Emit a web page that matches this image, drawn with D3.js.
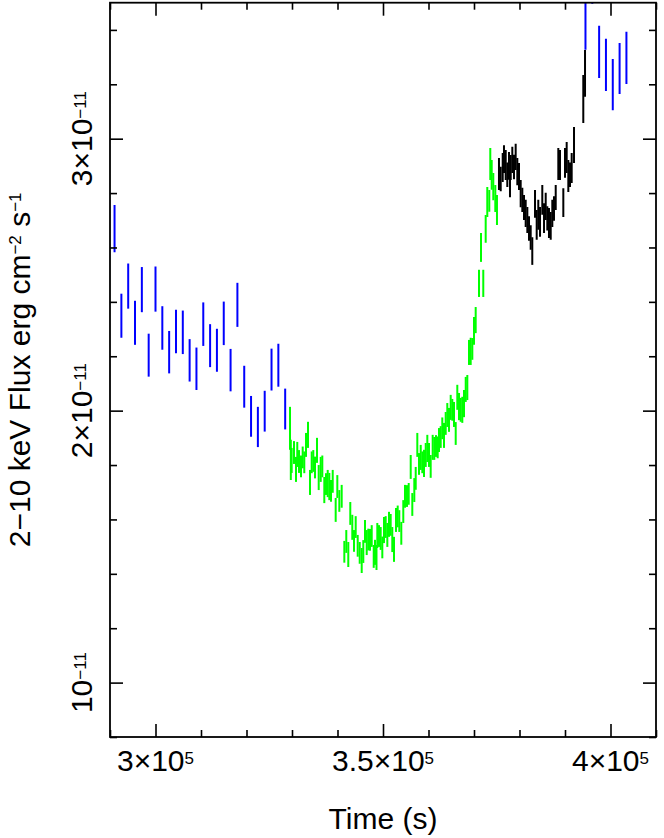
<!DOCTYPE html>
<html>
<head>
<meta charset="utf-8">
<script src="https://cdn.jsdelivr.net/npm/d3@7/dist/d3.min.js"></script>
<style>
  html, body { margin: 0; padding: 0; background: #fff; }
  svg { display: block; }
  text { font-family: "Liberation Sans", Arial, Helvetica, sans-serif; fill: #000; }
</style>
</head>
<body>
<div id="chart"></div>
<script>
// ---------------- data (time in s, flux in units of 1e-11 erg cm^-2 s^-1) ----------------
const blueA_time = [291000, 292500, 294000, 295500, 297000, 298500, 300000, 301500, 303000, 304500, 306000, 307500, 309000, 310500, 312000, 313500, 315000, 316500, 318000, 319500, 321000, 322500, 324000, 325500, 327000, 328500];
const blueA_flux = [2.669, 2.349, 2.458, 2.323, 2.445, 2.204, 2.447, 2.304, 2.215, 2.291, 2.288, 2.185, 2.154, 2.318, 2.239, 2.222, 2.321, 2.149, 2.389, 2.088, 1.979, 1.940, 1.998, 2.151, 2.167, 2.006];
const blueA_err  = [0.087, 0.081, 0.083, 0.081, 0.083, 0.079, 0.083, 0.080, 0.078, 0.080, 0.080, 0.078, 0.078, 0.080, 0.079, 0.079, 0.080, 0.078, 0.081, 0.077, 0.075, 0.074, 0.075, 0.077, 0.079, 0.075];

const green_time = [329560, 329740, 329930, 330440, 330880, 331160, 331540, 331980, 332350, 332700,
  333080, 333520, 333960, 334330, 334680, 335050, 335490, 335870, 336310, 336660,
  337100, 337470, 337850, 338200, 338570, 338950, 339600, 339960, 340400, 340920,
  341500, 341930, 342370, 342810, 343250, 343630, 344000, 344440, 344880, 345320,
  345670, 346040, 346420, 346770, 347140, 347520, 347960, 348240, 348570, 348750,
  349120, 349490, 349850, 350220, 350590, 350950, 351320, 351690, 352040, 352420,
  352860, 353230, 353580, 354020, 354460, 354840, 355270, 355650, 356090, 356440,
  356880, 357190, 357540, 357910, 358290, 358640, 359010, 359390, 359740, 360110,
  360480, 360920, 361270, 361650, 362020, 362310, 362680, 363030, 363410, 363780,
  364130, 364510, 364880, 365230, 365600, 365980, 366330, 366700, 367080, 367430,
  367800, 368180, 368530, 368900, 369270, 369630, 370000, 370370, 371100, 371540,
  372040, 372570, 372920, 373360, 373580, 373890, 374240, 374680, 375050];
const green_flux = [1.935, 1.819, 1.817, 1.846, 1.784, 1.839, 1.813, 1.795, 1.828, 1.810,
  1.874, 1.911, 1.736, 1.810, 1.815, 1.791, 1.854, 1.754, 1.784, 1.795,
  1.708, 1.730, 1.732, 1.721, 1.705, 1.740, 1.635, 1.721, 1.668, 1.685,
  1.481, 1.519, 1.471, 1.622, 1.571, 1.521, 1.572, 1.503, 1.477, 1.449,
  1.482, 1.556, 1.515, 1.526, 1.525, 1.539, 1.464, 1.479, 1.460, 1.541,
  1.539, 1.530, 1.497, 1.561, 1.572, 1.543, 1.582, 1.580, 1.526, 1.490,
  1.598, 1.611, 1.594, 1.549, 1.629, 1.685, 1.686, 1.694, 1.793, 1.655,
  1.708, 1.751, 1.874, 1.804, 1.828, 1.810, 1.806, 1.837, 1.861, 1.837,
  1.795, 1.865, 1.861, 1.870, 1.865, 1.892, 1.903, 1.935, 1.909, 1.953,
  1.984, 1.966, 2.012, 2.003, 1.986, 1.916, 2.049, 2.015, 2.003, 2.003,
  2.026, 2.078, 2.085, 2.214, 2.218, 2.227, 2.293, 2.333, 2.468, 2.600,
  2.468, 2.668, 2.767, 2.771, 2.907, 2.867, 2.824, 2.780, 2.738];
const green_err = [0.079, 0.074, 0.046, 0.042, 0.046, 0.046, 0.042, 0.040, 0.040, 0.040,
  0.044, 0.048, 0.046, 0.040, 0.040, 0.040, 0.046, 0.046, 0.046, 0.040,
  0.048, 0.040, 0.050, 0.050, 0.040, 0.042, 0.044, 0.042, 0.040, 0.042,
  0.040, 0.042, 0.046, 0.042, 0.046, 0.040, 0.040, 0.040, 0.040, 0.046,
  0.042, 0.042, 0.046, 0.040, 0.040, 0.040, 0.042, 0.046, 0.046, 0.046,
  0.040, 0.042, 0.040, 0.048, 0.040, 0.044, 0.046, 0.040, 0.046, 0.046,
  0.044, 0.040, 0.040, 0.042, 0.042, 0.042, 0.040, 0.040, 0.044, 0.042,
  0.044, 0.042, 0.044, 0.040, 0.046, 0.040, 0.050, 0.044, 0.050, 0.044,
  0.042, 0.046, 0.042, 0.040, 0.040, 0.044, 0.040, 0.040, 0.046, 0.042,
  0.044, 0.044, 0.046, 0.040, 0.046, 0.042, 0.046, 0.050, 0.044, 0.048,
  0.050, 0.046, 0.046, 0.046, 0.050, 0.040, 0.051, 0.048, 0.050, 0.053,
  0.050, 0.051, 0.055, 0.040, 0.059, 0.055, 0.050, 0.050, 0.055];

const black_time = [375490, 375870, 376310, 376590, 376970, 377320, 377690, 377910, 378070, 378420,
  378790, 379160, 379520, 379890, 380260, 380620, 380990, 381360, 381720, 382090,
  382460, 382810, 383410, 383780, 384130, 384510, 385010, 385390, 385760, 386110,
  386480, 386860, 387210, 387580, 387960, 388530, 388900, 389630, 390000, 390370,
  390730, 391100, 391470, 391980, 394020, 394400];
const black_flux = [2.870, 2.852, 2.894, 2.925, 2.903, 2.867, 2.900, 2.835, 2.894, 2.922,
  2.896, 2.933, 2.879, 2.861, 2.798, 2.775, 2.747, 2.725, 2.701, 2.670,
  2.637, 2.587, 2.760, 2.683, 2.720, 2.694, 2.775, 2.708, 2.751, 2.707,
  2.690, 2.679, 2.725, 2.743, 2.784, 2.907, 2.903, 2.765, 2.911, 2.931,
  2.863, 2.867, 2.892, 2.977, 3.146, 3.240];
const black_err = [0.059, 0.045, 0.053, 0.051, 0.055, 0.045, 0.051, 0.050, 0.046, 0.048,
  0.045, 0.048, 0.050, 0.050, 0.050, 0.045, 0.046, 0.050, 0.048, 0.045,
  0.045, 0.051, 0.051, 0.055, 0.055, 0.055, 0.055, 0.055, 0.050, 0.045,
  0.055, 0.051, 0.050, 0.045, 0.046, 0.059, 0.055, 0.053, 0.055, 0.057,
  0.059, 0.045, 0.055, 0.066, 0.088, 0.086];

const blueB_time = [394500, 396000, 397500, 399000, 400500, 402000, 403500];
const blueB_flux = [3.424, 3.593, 3.319, 3.271, 3.199, 3.258, 3.297];
const blueB_err  = [0.097, 0.097, 0.096, 0.096, 0.094, 0.094, 0.096];

// axis ticks and labels
const xDomain = [290000, 410000];
const yDomain = [0.8, 3.5];
const xMajorTicks = [300000, 350000, 400000];
const xMajorLabels = [["3×10", "5"], ["3.5×10", "5"], ["4×10", "5"]];
const xMinorTicks = [290000, 310000, 320000, 330000, 340000, 360000, 370000, 380000, 390000, 410000];
const yMajorTicks = [1, 2, 3];
const yMajorLabels = [["10", "−11"], ["2×10", "−11"], ["3×10", "−11"]];
const yMinorTicks = [0.8, 1.2, 1.4, 1.6, 1.8, 2.2, 2.4, 2.6, 2.8, 3.2, 3.4];
const xTitle = "Time (s)";
const yTitleParts = [["2−10 keV Flux erg cm", 0], ["−2", 1], [" s", 0], ["−1", 1]];

// ---------------- layout ----------------
const W = 664, H = 838;
const L = 110, R = 656, T = 2.7, B = 737;
const FS = 30, SUP = 17;

const svg = d3.select("#chart").append("svg")
  .attr("width", W).attr("height", H)
  .attr("viewBox", `0 0 ${W} ${H}`);
svg.append("rect").attr("width", W).attr("height", H).attr("fill", "#fff");

const x = d3.scaleLinear().domain(xDomain).range([L, R]);
const y = d3.scaleLinear().domain(yDomain).range([B, T]);

svg.append("defs").append("clipPath").attr("id", "clip")
  .append("rect").attr("x", L).attr("y", T).attr("width", R - L).attr("height", B - T);

// ---------------- error bars ----------------
const plot = svg.append("g").attr("clip-path", "url(#clip)");
function bars(times, flux, err, color) {
  const d = times.map((t, i) => ({ t, f: flux[i], e: err[i] }));
  plot.append("g").selectAll("line").data(d).join("line")
    .attr("x1", p => x(p.t)).attr("x2", p => x(p.t))
    .attr("y1", p => y(p.f - p.e)).attr("y2", p => y(p.f + p.e))
    .attr("stroke", color).attr("stroke-width", 2);
}
bars(green_time, green_flux, green_err, "#00ff00");
bars(black_time, black_flux, black_err, "#000000");
bars(blueA_time, blueA_flux, blueA_err, "#0000ff");
bars(blueB_time, blueB_flux, blueB_err, "#0000ff");

// ---------------- axes (ticks inward on all four sides) ----------------
function tickAxis(axisFn, scale, values, size, tx, ty) {
  const g = svg.append("g").attr("transform", `translate(${tx},${ty})`)
    .call(axisFn(scale).tickValues(values).tickSizeInner(-size).tickSizeOuter(0).tickFormat(""));
  g.select(".domain").remove();
  g.selectAll(".tick line").attr("stroke", "#000").attr("stroke-width", 1.6);
  return g;
}
tickAxis(d3.axisBottom, x, xMajorTicks, 13, 0, B);
tickAxis(d3.axisBottom, x, xMinorTicks, 7, 0, B);
tickAxis(d3.axisTop, x, xMajorTicks, 13, 0, T);
tickAxis(d3.axisTop, x, xMinorTicks, 7, 0, T);
tickAxis(d3.axisLeft, y, yMajorTicks, 13, L, 0);
tickAxis(d3.axisLeft, y, yMinorTicks, 7, L, 0);
tickAxis(d3.axisRight, y, yMajorTicks, 13, R, 0);
tickAxis(d3.axisRight, y, yMinorTicks, 7, R, 0);

svg.append("rect").attr("x", L).attr("y", T).attr("width", R - L).attr("height", B - T)
  .attr("fill", "none").attr("stroke", "#000").attr("stroke-width", 1.8);

// ---------------- tick labels ----------------
function supLabel(sel, base, sup, shift) {
  sel.append("tspan").text(base);
  sel.append("tspan").attr("font-size", SUP).attr("dy", -shift).text(sup);
}
xMajorTicks.forEach((v, i) => {
  const t = svg.append("text").attr("x", x(v)).attr("y", 771)
    .attr("text-anchor", "middle").attr("font-size", FS);
  supLabel(t, xMajorLabels[i][0], xMajorLabels[i][1], 7);
});
yMajorTicks.forEach((v, i) => {
  const t = svg.append("text")
    .attr("transform", `translate(92,${y(v)}) rotate(-90)`)
    .attr("text-anchor", "middle").attr("font-size", FS);
  supLabel(t, yMajorLabels[i][0], yMajorLabels[i][1], 6);
});

// ---------------- axis titles ----------------
svg.append("text").attr("x", (L + R) / 2).attr("y", 829)
  .attr("text-anchor", "middle").attr("font-size", FS).text(xTitle);

const yt = svg.append("text")
  .attr("transform", `translate(29.5,${(T + B) / 2}) rotate(-90)`)
  .attr("text-anchor", "middle").attr("font-size", FS);
let raised = 0;
yTitleParts.forEach(([s, isSup]) => {
  const shift = isSup ? -9 : 0;
  yt.append("tspan").attr("font-size", isSup ? SUP : FS).attr("dy", shift - raised).text(s);
  raised = shift;
});
</script>
</body>
</html>
